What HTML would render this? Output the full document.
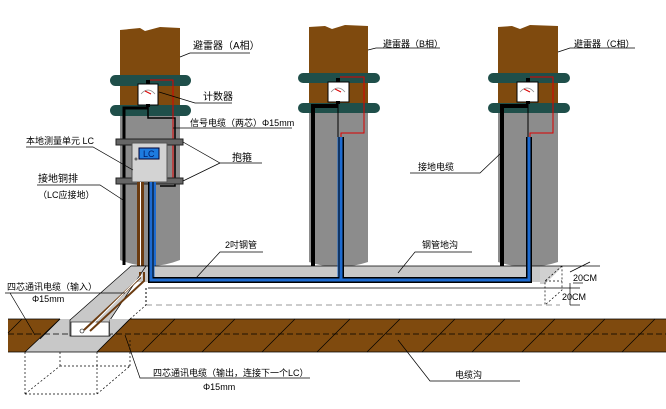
<!DOCTYPE html>
<html><head><meta charset="utf-8"><style>
html,body{margin:0;padding:0;background:#fff;}
svg{display:block;}
text{font-family:"Liberation Sans","Noto Sans CJK SC",sans-serif;font-size:10px;fill:#000;}
</style></head><body>
<svg width="666" height="409" viewBox="0 0 666 409" xmlns="http://www.w3.org/2000/svg">
<g>
 <path d="M120,260 L120,110 L180,110 L180,260 Q150,272 120,260Z" fill="#8c8c8c"/>
 <path d="M120,30 L140,28 L145,31 L160,27 L180,28 L180,112 L120,112Z" fill="#7f4a0e"/>
 <path d="M309,262 L309,110 L368,110 L368,262 Q338,272 309,262Z" fill="#8c8c8c"/>
 <path d="M309,27 L325,26 L332,29 L345,25 L368,26 L368,112 L309,112Z" fill="#7f4a0e"/>
 <path d="M498,262 L498,110 L558,110 L558,262 Q528,272 498,262Z" fill="#8c8c8c"/>
 <path d="M498,27 L512,26 L520,29 L530,25 L558,26 L558,112 L498,112Z" fill="#7f4a0e"/>
</g>
<g fill="#1f4f4a">
 <rect x="110" y="75" width="81" height="11" rx="5.5"/>
 <rect x="110" y="105" width="81" height="11" rx="5.5"/>
 <rect x="298" y="73" width="82" height="10" rx="5"/>
 <rect x="298" y="103" width="82" height="10" rx="5"/>
 <rect x="488" y="73" width="82" height="10" rx="5"/>
 <rect x="488" y="103" width="82" height="10" rx="5"/>
</g>
<g stroke="#000" fill="none">
 <path d="M124,265 L124,108 L148,108" stroke-width="3"/>
 <path d="M313,268 L313,106 L338,106" stroke-width="4"/>
 <path d="M502,268 L502,106 L528,106" stroke-width="4"/>
 <path d="M148,104 L148,118 L175,118 L175,186 L160,186" stroke-width="1.5"/>
 <path d="M338,102 L338,137" stroke-width="1"/>
 <path d="M528,102 L528,137" stroke-width="1"/>
</g>
<g stroke="#d00" fill="none" stroke-width="1">
 <path d="M150,80 L173,80 L173,180"/>
 <path d="M340,77 L364,77 L364,133 L341,133 L341,137"/>
 <path d="M530,77 L553,77 L553,133 L530,133 L530,137"/>
</g>
<g>
 <rect x="138" y="84" width="20" height="21" fill="#fff" stroke="#000"/>
 <rect x="328" y="82" width="21" height="20" fill="#fff" stroke="#000"/>
 <rect x="517" y="82" width="21" height="20" fill="#fff" stroke="#000"/>
 <g fill="none" stroke="#888" stroke-width="0.7">
  <path d="M141,94 Q148,86 155,94"/><path d="M331,92 Q338,84 345,92"/><path d="M520,92 Q527,84 534,92"/>
 </g>
 <g stroke="#d00"><path d="M145,91 L151,94"/><path d="M335,89 L341,92"/><path d="M524,89 L530,92"/></g>
 <g fill="#000"><rect x="146" y="80" width="4" height="4"/><rect x="336" y="78" width="4" height="4"/><rect x="526" y="78" width="4" height="4"/><rect x="146" y="104" width="4" height="3"/><rect x="336" y="101" width="4" height="3"/><rect x="526" y="101" width="4" height="3"/></g>
</g>
<g fill="#666" stroke="#222" stroke-width="1">
 <rect x="116" y="139" width="67" height="6"/>
 <rect x="116" y="178" width="67" height="6"/>
</g>
<rect x="132" y="143" width="35" height="39" fill="#d3d3d3" stroke="#555"/>
<rect x="139" y="148" width="20" height="11" fill="#1e7be0" stroke="#003"/>
<text x="143" y="157" style="font-size:9px;fill:#001a66">LC</text>
<circle cx="136" cy="159" r="1.5" fill="#666"/>
<g>
 <rect x="137" y="182" width="3" height="90" fill="#6b3b10"/><rect x="141" y="182" width="3" height="90" fill="#6b3b10"/>
 <rect x="140" y="182" width="1" height="90" fill="#fff"/>
 <rect x="149" y="182" width="3" height="98" fill="#1e6bd0"/><rect x="153" y="182" width="3" height="98" fill="#1e6bd0"/>
</g>
<!-- trench -->
<path d="M131,266 L540,266 L540,282 L131,282Z" fill="#c8c8c8"/>
<line x1="131" y1="266" x2="540" y2="266" stroke="#000" stroke-width="0.8"/>
<line x1="131" y1="266" x2="131" y2="284" stroke="#000" stroke-width="0.8"/>
<path d="M540,266 L563,266 L545,284 L540,284Z" fill="#d0d0d0"/>
<line x1="540" y1="266" x2="600" y2="266" stroke="#000" stroke-width="0.8"/>
<line x1="148" y1="288" x2="580" y2="288" stroke="#000" stroke-width="0.8"/>
<g fill="none" stroke-linejoin="miter">
 <path d="M151,182 L151,280 L341,280 L341,137 M341,280 L529,280 L529,137" stroke="#000" stroke-width="6"/>
 <path d="M151,182 L151,280 L341,280 L341,137 M341,280 L529,280 L529,137" stroke="#1e6bd0" stroke-width="3"/>
 <path d="M154,182 L154,277 M338,137 L338,277" stroke="#1e6bd0" stroke-width="1"/>
</g>
<line x1="146" y1="305" x2="560" y2="305" stroke="#999" stroke-dasharray="6,4"/>
<line x1="146" y1="288" x2="146" y2="305" stroke="#000" stroke-dasharray="2,2"/>
<g stroke="#000" stroke-width="0.7" fill="none">
 <path d="M562,266 L545,281 L545,305 L562,290 L562,266" stroke-dasharray="2,2"/>
 <line x1="545" y1="281" x2="562" y2="281" stroke-dasharray="2,2"/>
 <line x1="570" y1="272" x2="590" y2="262"/>
 <line x1="573" y1="283" x2="583" y2="283"/>
 <line x1="570" y1="305" x2="580" y2="305"/>
 <line x1="570" y1="283" x2="570" y2="305"/>
</g>
<text x="573" y="281" style="font-size:9px">20CM</text>
<text x="562" y="300" style="font-size:9px">20CM</text>
<rect x="8" y="319" width="658" height="33" fill="#7f4a0e"/>
<path d="M60,319 L130,319 L97,352 L25,352Z" fill="#c8c8c8"/>
<g stroke="#000" stroke-width="0.8">
 <line x1="8" y1="319" x2="60" y2="319"/><line x1="130" y1="319" x2="666" y2="319"/>
 <line x1="8" y1="352" x2="666" y2="352"/>
 <line x1="60" y1="319" x2="25" y2="352"/><line x1="130" y1="319" x2="97" y2="352"/>
 <g stroke-width="0.7">
  <line x1="22" y1="319" x2="8" y2="333"/><line x1="60" y1="319" x2="40" y2="339"/>
  <line x1="175" y1="319" x2="142" y2="352"/><line x1="235" y1="319" x2="202" y2="352"/><line x1="295" y1="319" x2="262" y2="352"/>
  <line x1="350" y1="319" x2="317" y2="352"/><line x1="400" y1="319" x2="367" y2="352"/><line x1="455" y1="319" x2="422" y2="352"/>
  <line x1="505" y1="319" x2="472" y2="352"/><line x1="555" y1="319" x2="522" y2="352"/><line x1="605" y1="319" x2="572" y2="352"/><line x1="655" y1="319" x2="622" y2="352"/>
 </g>
 <line x1="8" y1="334" x2="666" y2="334" stroke-dasharray="6,3"/>
</g>
<path d="M70,320 L131,266 L146,266 L110,320 L110,336 L70,336Z" fill="#c8c8c8" stroke="#000" stroke-width="0.7"/>
<rect x="71" y="322" width="38" height="14" fill="#fff" stroke="#000" stroke-width="0.6"/>
<path d="M110,319 L128,319 L110,334Z" fill="#c8c8c8"/>
<g stroke-width="2" fill="none">
 <path d="M140,272 L140,278 L84,330" stroke="#6b3b10"/>
 <path d="M144,272 L144,281 L90,331" stroke="#6b3b10"/>
 <path d="M142,275 L87,330" stroke="#fff" stroke-width="1"/>
</g>
<circle cx="82" cy="331" r="2" fill="#fff" stroke="#000" stroke-width="0.6"/>
<g stroke="#000" stroke-width="0.7" fill="none" stroke-dasharray="2,2">
 <line x1="25" y1="352" x2="25" y2="394"/><line x1="97" y1="352" x2="97" y2="394"/>
 <line x1="60" y1="352" x2="60" y2="366"/><line x1="130" y1="340" x2="130" y2="366"/>
 <line x1="25" y1="394" x2="97" y2="394"/><line x1="60" y1="366" x2="130" y2="366"/>
 <line x1="25" y1="394" x2="60" y2="366"/><line x1="97" y1="394" x2="130" y2="366"/>
 <line x1="130" y1="319" x2="146" y2="305"/>
</g>
<g stroke="#000" stroke-width="0.7" fill="none">
 <path d="M180,57 L190,53 L250,53"/>
 <path d="M159,92 L195,103 L232,103"/>
 <path d="M173,128 L180,128 L292,128"/>
 <path d="M26,147 L93,147 L133,170"/>
 <path d="M183,142 L220,163 L262,163 M183,181 L220,163"/>
 <path d="M37,185 L100,185 L123,200"/>
 <path d="M368,50 L376,48 L440,48"/>
 <path d="M558,52 L570,48 L635,48"/>
 <path d="M502,152 L480,173 L410,173"/>
 <path d="M196,278 L220,252 L263,252"/>
 <path d="M398,273 L415,252 L472,252"/>
 <path d="M5,293 L125,293 M10,293 L35,335"/>
 <path d="M125,335 L140,378 L310,378"/>
 <path d="M398,340 L430,381 L520,381"/>
</g>
<text x="193" y="49">避雷器（A相）</text>
<text x="203" y="100">计数器</text>
<text x="190" y="126" style="font-size:9px">信号电缆（两芯）Φ15mm</text>
<text x="26" y="144" style="font-size:9px">本地测量单元 LC</text>
<text x="232" y="161">抱箍</text>
<text x="38" y="182">接地铜排</text>
<text x="38" y="198" style="font-size:9px">（LC应接地）</text>
<text x="383" y="47" style="font-size:9px">避雷器（B相）</text>
<text x="574" y="47" style="font-size:9px">避雷器（C相）</text>
<text x="418" y="170" style="font-size:9px">接地电缆</text>
<text x="225" y="248" style="font-size:9px">2吋钢管</text>
<text x="422" y="248" style="font-size:9px">钢管地沟</text>
<text x="7" y="290" style="font-size:9px">四芯通讯电缆（输入）</text>
<text x="32" y="302" style="font-size:9px">Φ15mm</text>
<text x="153" y="376" style="font-size:9px">四芯通讯电缆（输出，连接下一个LC）</text>
<text x="203" y="390" style="font-size:9px">Φ15mm</text>
<text x="455" y="378" style="font-size:9px">电缆沟</text>
</svg>
</body></html>
